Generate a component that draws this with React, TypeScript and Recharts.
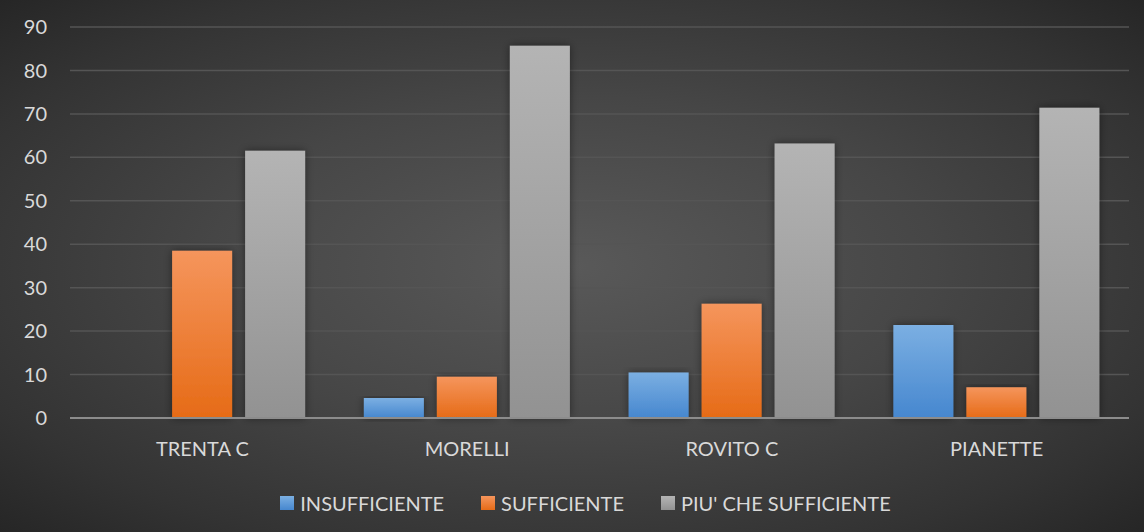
import React from "react";
import { BarChart, Bar, XAxis, YAxis, CartesianGrid, Legend, ReferenceLine } from "recharts";

const categories = ["TRENTA C", "MORELLI", "ROVITO C", "PIANETTE"];
const insufficiente = [0, 4.6, 10.5, 21.4];
const sufficiente = [38.5, 9.5, 26.3, 7.1];
const piuCheSufficiente = [61.5, 85.7, 63.2, 71.4];
const yTicks = [0, 10, 20, 30, 40, 50, 60, 70, 80, 90];

const seriesInfo = [
  { key: "ins", name: "INSUFFICIENTE", grad: "gBlue", top: "#7bafe2", bottom: "#4687cf" },
  { key: "suf", name: "SUFFICIENTE", grad: "gOrange", top: "#f5955c", bottom: "#e66b17" },
  { key: "piu", name: "PIU' CHE SUFFICIENTE", grad: "gGray", top: "#b4b4b4", bottom: "#929292" },
];

const data = categories.map((c, i) => ({
  name: c,
  ins: insufficiente[i],
  suf: sufficiente[i],
  piu: piuCheSufficiente[i],
}));

const FONT = "Lato, 'Open Sans', sans-serif";
const TEXT = "#d9d9d9";

function LegendBox() {
  return (
    <div
      style={{
        display: "flex",
        justifyContent: "center",
        gap: 37,
        paddingTop: 13,
        paddingLeft: 42,
        fontFamily: FONT,
        fontSize: 20,
        color: TEXT,
      }}
    >
      {seriesInfo.map((s) => (
        <div key={s.key} style={{ display: "flex", alignItems: "center", gap: 6 }}>
          <span
            style={{
              display: "inline-block",
              width: 14,
              height: 14,
              background: `linear-gradient(${s.top}, ${s.bottom})`,
            }}
          />
          <span>{s.name}</span>
        </div>
      ))}
    </div>
  );
}

export default function App() {
  return (
    <div
      style={{
        width: 1144,
        height: 532,
        background: "radial-gradient(ellipse at 50% 50%, #595959 0%, #464646 45%, #333333 80%, #262626 100%)",
      }}
    >
      <style>{`body{margin:0}`}</style>
      <BarChart
        width={1144}
        height={532}
        data={data}
        margin={{ top: 27, right: 15, left: 0, bottom: 0 }}
        barCategoryGap="11%"
        barGap={13}
      >
        <defs>
          {seriesInfo.map((s) => (
            <linearGradient key={s.grad} id={s.grad} x1="0" y1="0" x2="0" y2="1">
              <stop offset="0%" stopColor={s.top} />
              <stop offset="100%" stopColor={s.bottom} />
            </linearGradient>
          ))}
          <filter id="shadow" x="-30%" y="-10%" width="160%" height="130%">
            <feDropShadow dx="0" dy="0" stdDeviation="4" floodColor="#000" floodOpacity="0.45" />
          </filter>
        </defs>
        <CartesianGrid vertical={false} stroke="#555555" strokeWidth={1.5} />
        <XAxis
          dataKey="name"
          axisLine={false}
          tickLine={false}
          tickMargin={18}
          height={60}
          tick={{ fill: TEXT, fontSize: 20, fontFamily: FONT }}
        />
        <YAxis
          domain={[0, 90]}
          ticks={yTicks}
          axisLine={false}
          tickLine={false}
          width={70}
          tickMargin={17}
          tick={{ fill: TEXT, fontSize: 20, fontFamily: FONT }}
        />
        <Legend verticalAlign="bottom" height={54} content={<LegendBox />} />
        {seriesInfo.map((s) => (
          <Bar
            key={s.key}
            dataKey={s.key}
            name={s.name}
            fill={`url(#${s.grad})`}
            filter="url(#shadow)"
            isAnimationActive={false}
          />
        ))}
        <ReferenceLine y={0} stroke="#8c8c8c" strokeWidth={2} />
      </BarChart>
    </div>
  );
}
